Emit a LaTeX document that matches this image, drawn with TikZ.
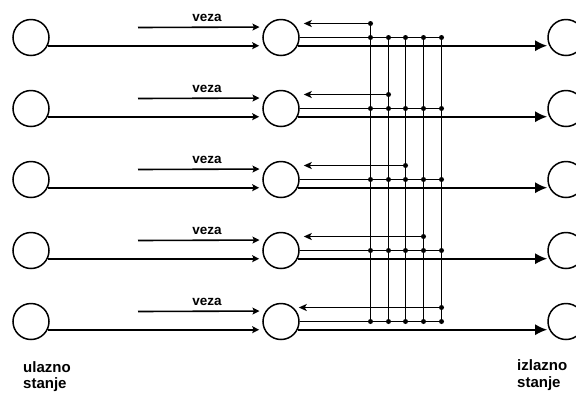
\documentclass[tikz,border=0pt]{standalone}
\usepackage{fontspec}
\setmainfont{Liberation Sans}
\newfontfamily\lblfont{Liberation Sans}[UprightFont=* Bold, BoldFont=* Bold]
\usetikzlibrary{arrows.meta}
\begin{document}
\begin{tikzpicture}[x=1pt,y=-1pt,
  state/.style={circle, draw, line width=1.5pt, minimum size=36pt, inner sep=0pt},
  wire/.style={line width=1.6pt},
  inarrow/.style={wire, -{Stealth[length=7pt,width=7pt,inset=1.5pt]}},
  fbarrow/.style={wire, -{Stealth[length=8pt,width=7pt,inset=2pt]}},
  outarrow/.style={wire, -{Latex[length=12pt,width=11pt]}},
  dotn/.style={circle, fill, inner sep=0pt, minimum size=5pt},
  vezalbl/.style={font=\lblfont\fontsize{13.5}{15}\selectfont, inner sep=0pt, anchor=base},
  sidelbl/.style={font=\lblfont\fontsize{15}{17}\selectfont, inner sep=0pt, anchor=base west}
]
\clip (0,0) rectangle (576,392);
\fill[white] (0,0) rectangle (576,392);
\foreach \i/\cy in {0/37.5,1/108.5,2/179.5,3/250.5,4/321.5} {
  \node[state] (L\i) at (31,\cy) {};
  \node[state] (M\i) at (281,\cy) {};
  \node[state] (R\i) at (566,\cy) {};
  \node[vezalbl] (T\i) at (207,\cy-16) {veza};
  \coordinate (V\i) at (138,\cy-10);
  \foreach \j/\cx in {0/370.5,1/388.5,2/405.5,3/423.5,4/441.5} {
    \node[dotn] (B\i\j) at (\cx,\cy) {};
  }
  \node[dotn] (F\i) at (B\i\i |- 0,\cy-14) {};
  % inputs
  \draw[inarrow, shorten >=6pt] (V\i) -- (M\i.146.25);
  \draw[inarrow, shorten >=5pt] (L\i.-26.4) -- (M\i.206.4);
  % bus
  \draw[wire] (M\i.east) -- (B\i4.center);
  % output
  \draw[outarrow, shorten >=2pt] (M\i.-26.4) -- (R\i.206.4);
}
% feedback arrows
\foreach \i in {0,...,3} {
  \draw[fbarrow] (F\i.center) -- ([xshift=4pt]M\i.east |- F\i);
}
\draw[fbarrow] (F4.center) -- ([xshift=-1pt]M4.east |- F4);
% vertical lines
\draw[wire] (F0.center) -- (B40.center);
\foreach \j in {1,...,4} {
  \draw[wire] (B0\j.center) -- (B4\j.center);
}
% side labels
\node[sidelbl] (ul1) at (23,372) {ulazno};
\node[sidelbl] (ul2) at (23,388) {stanje};
\node[sidelbl] (iz1) at (517,370) {izlazno};
\node[sidelbl] (iz2) at (517,387) {stanje};
\end{tikzpicture}
\end{document}
